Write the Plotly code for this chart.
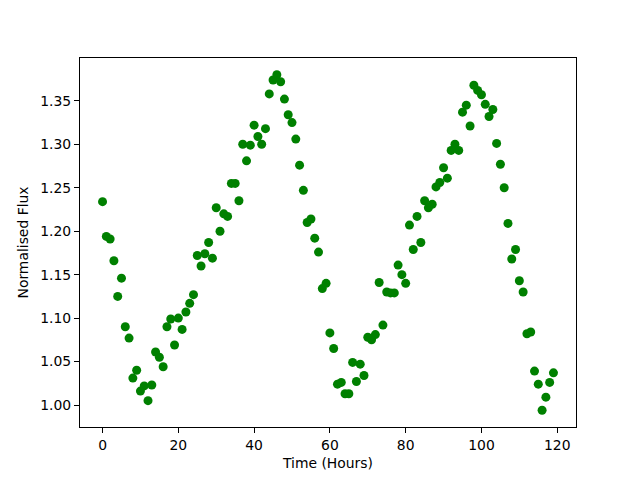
import plotly.graph_objects as go

hours = list(range(120))
flux = [
    1.234, 1.194, 1.191, 1.166, 1.125, 1.146, 1.090, 1.077, 1.031, 1.040,
    1.016, 1.022, 1.005, 1.023, 1.061, 1.055, 1.044, 1.090, 1.099, 1.069,
    1.100, 1.087, 1.107, 1.117, 1.127, 1.172, 1.160, 1.174, 1.187, 1.169,
    1.227, 1.200, 1.220, 1.217, 1.255, 1.255, 1.235, 1.300, 1.281, 1.299,
    1.322, 1.309, 1.300, 1.318, 1.358, 1.374, 1.380, 1.372, 1.352, 1.334,
    1.325, 1.306, 1.276, 1.247, 1.210, 1.214, 1.192, 1.176, 1.134, 1.140,
    1.083, 1.065, 1.024, 1.026, 1.013, 1.013, 1.049, 1.027, 1.047, 1.034,
    1.078, 1.075, 1.081, 1.141, 1.092, 1.130, 1.129, 1.129, 1.161, 1.150,
    1.140, 1.207, 1.179, 1.217, 1.187, 1.235, 1.227, 1.231, 1.251, 1.256,
    1.273, 1.261, 1.293, 1.300, 1.293, 1.337, 1.345, 1.321, 1.368, 1.362,
    1.357, 1.346, 1.332, 1.340, 1.301, 1.277, 1.250, 1.209, 1.168, 1.179,
    1.143, 1.130, 1.082, 1.084, 1.039, 1.024, 0.994, 1.009, 1.026, 1.037,
]

x_title = "Time (Hours)"
y_title = "Normalised Flux"

fig = go.Figure(
    go.Scatter(
        x=hours, y=flux, mode="markers",
        marker=dict(color="#008000", size=9, line=dict(width=0)),
    )
)

font = dict(family="DejaVu Sans", size=13.9, color="black")
axis_common = dict(
    showgrid=False, zeroline=False, showline=True, mirror=True,
    linecolor="black", linewidth=1.1, ticks="outside", ticklen=5,
    tickwidth=1.1, tickcolor="black", tickfont=font, automargin=False,
)

xmin, xmax = min(hours), max(hours)
ymin, ymax = min(flux), max(flux)
xm = (xmax - xmin) * 0.05
ym = (ymax - ymin) * 0.05

fig.update_layout(
    width=632, height=472,
    margin=dict(l=72, r=64, t=50, b=53),
    paper_bgcolor="white", plot_bgcolor="white",
    showlegend=False,
    font=font,
    xaxis=dict(range=[xmin - xm, xmax + xm], dtick=20, tick0=0,
               title=dict(text=x_title, font=font, standoff=6), **axis_common),
    yaxis=dict(range=[ymin - ym, ymax + ym], dtick=0.05, tick0=1.0,
               tickformat=".2f",
               title=dict(text=y_title, font=font, standoff=8), **axis_common),
)

fig.write_html("out.html")
